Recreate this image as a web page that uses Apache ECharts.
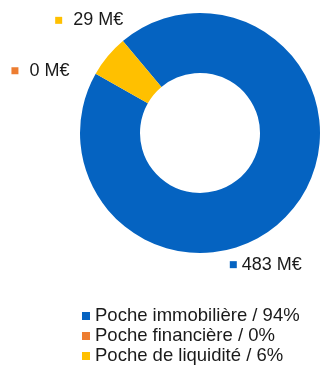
<!DOCTYPE html>
<html>
<head>
<meta charset="utf-8">
<script src="https://cdn.jsdelivr.net/npm/echarts@6/dist/echarts.min.js"></script>
<style>
  html, body { margin: 0; padding: 0; background: #ffffff; }
  #chart { width: 321px; height: 374px; }
</style>
</head>
<body>
<div id="chart"></div>
<script>
// Répartition du patrimoine par poche (en M€)
var categories = ['Poche immobilière', 'Poche financière', 'Poche de liquidité'];
var values = [483, 0, 29];
var shares = ['94%', '0%', '6%'];
var colors = ['#0563C1', '#ED7D31', '#FFC000'];

var legendNames = categories.map(function (c, i) { return c + ' / ' + shares[i]; });

var chart = echarts.init(document.getElementById('chart'), null, { renderer: 'canvas' });

// Per-label nudges so the value tags sit beside the ring
var labelShift = [
  { dx: -72, dy: 51 },
  { dx: -16, dy: 0 },
  { dx: 25, dy: -32 }
];
// Spacing between the coloured tag and its value text
var tagGap = ['gapS', 'gapL', 'gapL'];

chart.setOption({
  animation: false,
  color: colors,
  legend: {
    orient: 'vertical',
    left: 77,
    top: 301,
    itemWidth: 8,
    itemHeight: 8,
    itemGap: 0,
    icon: 'rect',
    selectedMode: false,
    textStyle: { fontFamily: 'Liberation Sans', fontSize: 18.5, lineHeight: 20, color: '#1a1a1a' },
    data: legendNames
  },
  series: [{
    type: 'pie',
    radius: [60, 120],
    center: [200, 133],
    startAngle: 130,
    clockwise: true,
    avoidLabelOverlap: false,
    silent: true,
    label: {
      show: true,
      position: 'outside',
      formatter: function (p) {
        var i = p.dataIndex;
        return '{sq' + i + '|}{' + tagGap[i] + '|}{t|' + values[i] + ' M€}';
      },
      rich: {
        sq0: { width: 7, height: 7, backgroundColor: colors[0] },
        sq1: { width: 7, height: 7, backgroundColor: colors[1] },
        sq2: { width: 7, height: 7, backgroundColor: colors[2] },
        gapS: { width: 5 },
        gapL: { width: 11 },
        t: { fontFamily: 'Liberation Sans', fontSize: 18, color: '#1a1a1a' }
      }
    },
    labelLine: { show: false, length: 6, length2: 0 },
    labelLayout: function (params) {
      return labelShift[params.dataIndex];
    },
    data: values.map(function (v, i) {
      return { name: legendNames[i], value: v };
    })
  }]
});
</script>
</body>
</html>
